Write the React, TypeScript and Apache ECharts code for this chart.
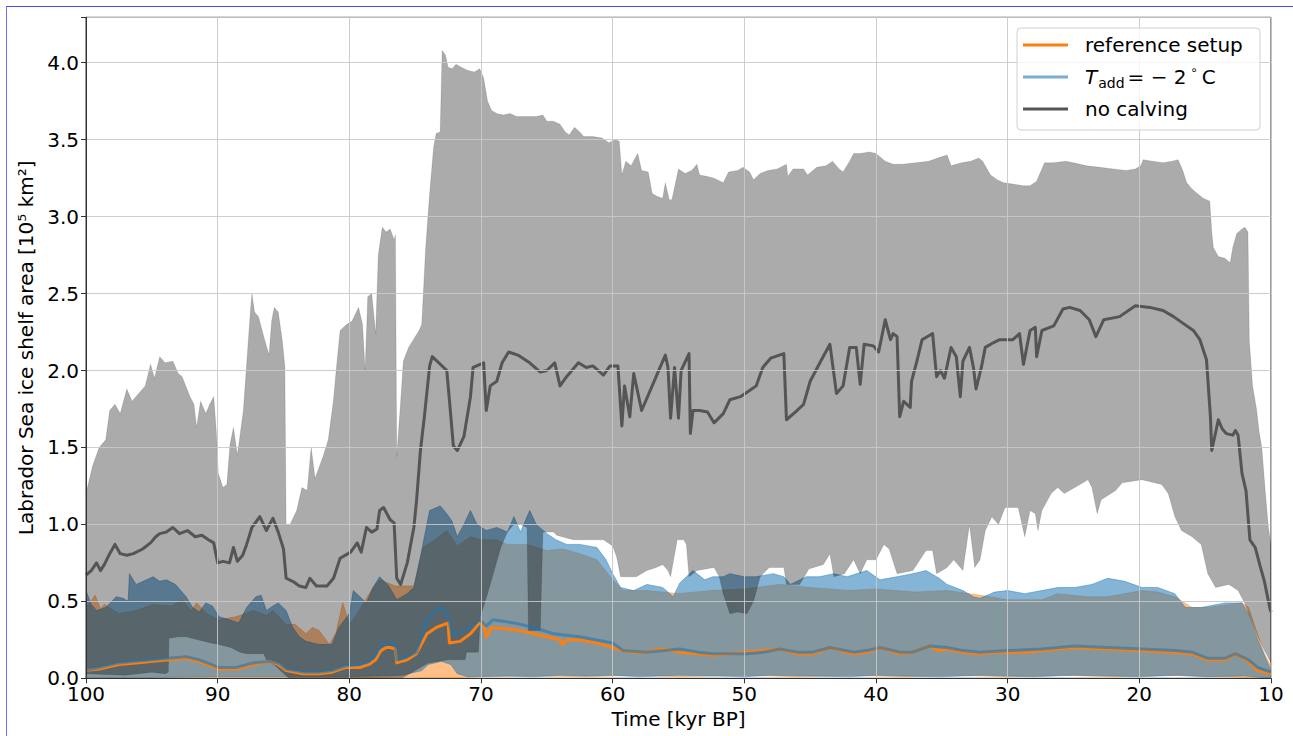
import React, { useEffect, useRef } from "react";
import * as echarts from "echarts";

type P = [number, number];

// ---- no calving (gray) ----
const noCalvingUpper: P[] = [[100,1.2],[99.5,1.38],[99,1.5],[98.5,1.55],[98.2,1.74],[97.8,1.78],[97.4,1.72],[96.9,1.88],[96.5,1.8],[96,1.85],[95.5,1.9],[95.1,2.04],[94.8,1.95],[94.4,2.09],[94,2.05],[93.4,2.06],[93,1.98],[92.7,1.96],[92.1,1.83],[91.8,1.78],[91.6,1.63],[91.3,1.8],[90.9,1.72],[90.6,1.78],[90.3,1.83],[90.1,1.6],[89.95,1.33],[89.6,1.24],[89.3,1.26],[89.06,1.52],[88.8,1.63],[88.5,1.45],[88.05,1.74],[87.8,2.04],[87.5,2.4],[87.4,2.5],[87.2,2.38],[86.9,2.35],[86.5,2.22],[86.1,2.1],[85.9,2.32],[85.7,2.41],[85.4,2.38],[85.1,2.2],[84.9,2.03],[84.8,1.0],[84.5,1.0],[84.0,1.09],[83.6,1.24],[83.2,1.22],[82.9,1.5],[82.6,1.3],[82.0,1.44],[81.6,1.55],[81.2,1.81],[81.0,2.0],[80.7,2.26],[80.2,2.3],[79.8,2.32],[79.3,2.41],[79.0,2.3],[78.8,2.0],[78.6,2.48],[78.3,2.5],[78.0,2.24],[77.8,2.75],[77.5,2.93],[77.2,2.9],[76.9,2.92],[76.6,2.85],[76.5,2.88],[76.4,1.44],[76.1,1.8],[75.9,2.06],[75.5,2.15],[75.0,2.22],[74.7,2.26],[74.5,2.3],[74.2,2.8],[73.9,3.15],[73.6,3.45],[73.4,3.54],[73.1,3.55],[72.95,4.08],[72.7,4.05],[72.5,3.97],[72.2,3.96],[71.9,3.99],[71.5,3.97],[71.0,3.95],[70.5,3.94],[70.1,3.96],[69.8,3.9],[69.5,3.75],[69.2,3.69],[68.8,3.67],[68.3,3.66],[67.8,3.67],[67.3,3.65],[66.5,3.65],[65.8,3.65],[65.3,3.66],[65.0,3.62],[64.5,3.62],[64.0,3.6],[63.6,3.55],[63.3,3.53],[62.9,3.58],[62.5,3.55],[62.2,3.52],[61.5,3.52],[60.8,3.51],[60.3,3.48],[59.8,3.5],[59.5,3.49],[59.3,3.27],[59.0,3.36],[58.6,3.33],[58.1,3.41],[57.8,3.3],[57.3,3.29],[57.0,3.15],[56.6,3.13],[56.2,3.12],[56.0,3.22],[55.7,3.11],[55.5,3.11],[55.0,3.31],[54.5,3.28],[54.0,3.3],[53.6,3.34],[53.4,3.27],[52.8,3.26],[52.3,3.25],[51.6,3.22],[51.2,3.29],[50.5,3.3],[50.1,3.32],[49.6,3.29],[49.3,3.24],[48.8,3.28],[48.2,3.3],[47.5,3.31],[46.8,3.34],[46.7,3.26],[46.3,3.31],[45.5,3.31],[45.2,3.27],[44.5,3.32],[43.8,3.33],[43.3,3.36],[42.8,3.31],[42.5,3.29],[42.0,3.36],[41.7,3.41],[41.2,3.41],[40.5,3.42],[40.0,3.41],[39.3,3.36],[38.7,3.34],[38.0,3.34],[37.0,3.35],[36.0,3.36],[35.3,3.38],[34.6,3.4],[34.3,3.33],[33.5,3.35],[32.8,3.36],[32.2,3.38],[31.9,3.36],[31.3,3.27],[30.8,3.24],[30.3,3.22],[29.5,3.21],[28.8,3.2],[28.3,3.2],[27.8,3.23],[27.2,3.35],[26.5,3.35],[25.6,3.36],[25.0,3.35],[24.0,3.33],[23.0,3.32],[22.0,3.31],[21.0,3.3],[20.3,3.31],[19.9,3.33],[19.7,3.37],[19.0,3.36],[18.2,3.35],[17.5,3.36],[17.06,3.37],[16.7,3.3],[16.4,3.22],[16.0,3.18],[15.6,3.15],[15.15,3.12],[14.65,3.1],[14.5,2.9],[14.38,2.8],[14.0,2.74],[13.5,2.73],[13.1,2.7],[12.9,2.8],[12.6,2.89],[12.2,2.92],[11.98,2.93],[11.75,2.9],[11.65,2.2],[11.4,1.9],[11.1,1.75],[10.9,1.6],[10.7,1.5],[10.46,1.24],[10.2,0.98],[10,0.87]];

const noCalvingLower: P[] = [[100,0.03],[97,0.02],[95,0.04],[94,0.03],[93.75,0.04],[93.7,0.26],[93,0.27],[92.4,0.27],[91.5,0.25],[90.5,0.23],[89.9,0.22],[89,0.2],[88.3,0.17],[87.8,0.16],[86.5,0.16],[86.3,0.12],[85.6,0.08],[85.1,0.04],[84.6,0.0],[76,0.0],[75,0.05],[74,0.1],[72.5,0.12],[71.2,0.12],[71.1,0.17],[70.2,0.17],[70.05,0.4],[69.5,0.55],[69,0.7],[68.5,0.85],[68,0.95],[67.5,1.0],[67,1.0],[66.5,0.98],[66.4,0.31],[65.5,0.31],[65.3,0.95],[64.5,0.95],[64.25,0.93],[63.0,0.9],[62,0.9],[60.7,0.9],[60,0.86],[59.7,0.79],[59.4,0.66],[58.8,0.66],[58.2,0.66],[57.4,0.7],[56.7,0.72],[56.2,0.74],[55.8,0.7],[55.6,0.66],[55.1,0.9],[54.6,0.9],[54.4,0.87],[54.2,0.66],[53.6,0.7],[52.3,0.72],[51.9,0.66],[51.6,0.55],[51.1,0.42],[50.5,0.43],[49.8,0.42],[49.3,0.5],[48.8,0.66],[48.1,0.72],[47.0,0.72],[46.8,0.61],[45.8,0.61],[45.1,0.71],[44.0,0.74],[43.5,0.81],[43.2,0.66],[42.4,0.68],[41.7,0.77],[41.2,0.68],[40.7,0.77],[40.0,0.77],[39.4,0.87],[39.0,0.84],[38.4,0.68],[37.2,0.7],[36.2,0.83],[35.7,0.83],[35.4,0.68],[34.6,0.72],[34.1,0.77],[33.4,0.7],[32.9,1.0],[32.5,0.72],[32.1,0.77],[31.7,0.96],[31.2,1.05],[30.7,1.0],[30.2,1.11],[29.2,1.11],[28.7,0.92],[28.3,1.09],[27.9,1.07],[27.7,0.96],[27.4,1.09],[26.7,1.2],[26.2,1.24],[25.7,1.2],[24.9,1.24],[23.9,1.29],[23.6,1.24],[23.2,1.07],[22.9,1.16],[21.8,1.22],[21.3,1.27],[19.8,1.29],[18.3,1.26],[17.8,1.2],[17.3,1.05],[16.8,0.96],[16.0,0.92],[15.3,0.87],[14.8,0.68],[14.2,0.59],[13.2,0.61],[12.5,0.57],[12.0,0.49],[11.5,0.38],[11.0,0.27],[10.5,0.18],[10,0.1]];

const noCalvingMean: P[] = [[100,0.67],[99.6,0.7],[99.2,0.75],[98.9,0.7],[98.6,0.74],[98.2,0.81],[97.8,0.87],[97.4,0.81],[96.9,0.8],[96.4,0.81],[95.7,0.84],[95.1,0.88],[94.7,0.92],[94.4,0.94],[93.9,0.95],[93.4,0.98],[92.9,0.94],[92.3,0.96],[91.7,0.92],[91.2,0.93],[90.7,0.9],[90.3,0.88],[90.0,0.75],[89.6,0.76],[89.1,0.75],[88.8,0.85],[88.5,0.76],[88.1,0.8],[87.8,0.87],[87.4,0.98],[86.8,1.05],[86.3,0.96],[85.8,1.04],[85.4,0.95],[85.0,0.84],[84.8,0.65],[84.3,0.63],[83.8,0.6],[83.3,0.59],[83.0,0.65],[82.5,0.6],[81.7,0.6],[81.2,0.65],[80.7,0.78],[79.9,0.82],[79.4,0.88],[79.1,0.82],[78.7,0.98],[78.3,0.95],[77.9,0.97],[77.7,1.09],[77.4,1.11],[76.9,1.03],[76.6,1.01],[76.4,0.65],[76.1,0.61],[75.6,0.75],[75.1,0.98],[74.9,1.15],[74.6,1.48],[74.3,1.7],[73.9,2.03],[73.7,2.09],[73.2,2.05],[72.6,2.0],[72.4,1.81],[72.1,1.51],[71.8,1.48],[71.3,1.57],[70.8,1.83],[70.6,2.02],[69.8,2.05],[69.6,1.74],[69.3,1.9],[68.8,1.93],[68.4,2.05],[67.9,2.12],[67.2,2.1],[66.3,2.05],[65.5,1.99],[65.0,2.0],[64.4,2.05],[64.0,1.9],[63.5,1.96],[62.6,2.05],[62.0,2.02],[61.5,2.03],[60.7,1.97],[60.2,2.03],[59.6,2.03],[59.3,1.64],[59.1,1.9],[58.7,1.7],[58.4,1.98],[57.8,1.74],[57.2,1.86],[56.4,2.02],[56.0,2.1],[55.8,2.02],[55.6,1.69],[55.3,2.02],[55.0,1.69],[54.8,2.0],[54.2,2.11],[54.1,1.59],[53.9,1.74],[53.4,1.74],[52.8,1.73],[52.3,1.66],[51.6,1.72],[51.1,1.81],[50.3,1.83],[49.6,1.87],[49.1,1.9],[48.6,2.02],[48.0,2.08],[47.0,2.11],[46.8,1.68],[46.0,1.74],[45.5,1.78],[45.0,1.93],[44.2,2.06],[43.5,2.17],[43.0,1.85],[42.5,1.9],[42.0,2.15],[41.5,2.15],[41.2,1.91],[40.9,2.17],[40.2,2.16],[39.8,2.12],[39.3,2.33],[38.9,2.2],[38.7,2.24],[38.4,2.22],[38.2,1.7],[37.9,1.8],[37.4,1.76],[37.3,1.93],[36.9,2.06],[36.5,2.2],[35.7,2.24],[35.4,1.96],[35.1,2.0],[34.8,1.95],[34.3,2.15],[33.9,2.09],[33.6,1.83],[33.4,2.06],[32.9,2.15],[32.6,2.02],[32.4,1.88],[32.0,2.02],[31.7,2.15],[31.1,2.18],[30.6,2.2],[29.6,2.2],[29.1,2.24],[28.8,2.04],[28.3,2.26],[27.9,2.28],[27.8,2.09],[27.4,2.26],[26.5,2.29],[25.8,2.4],[25.3,2.41],[24.5,2.39],[23.8,2.33],[23.3,2.22],[22.7,2.33],[21.5,2.35],[20.3,2.42],[19.2,2.41],[18.2,2.39],[17.4,2.35],[16.4,2.29],[15.9,2.26],[15.4,2.2],[14.9,2.07],[14.6,1.7],[14.5,1.48],[14.0,1.68],[13.7,1.62],[13.4,1.59],[12.9,1.58],[12.7,1.61],[12.5,1.58],[12.2,1.33],[11.9,1.22],[11.6,0.9],[11.2,0.85],[10.8,0.72],[10.5,0.63],[10.1,0.46],[10,0.43]];

// ---- T_add = -2 C (blue) ----
const tAddUpper: P[] = [[100,0.57],[99.6,0.48],[99.2,0.44],[98.5,0.46],[97.7,0.53],[97.2,0.52],[96.8,0.5],[96.7,0.68],[96.2,0.61],[95.4,0.64],[94.9,0.66],[94.4,0.63],[93.9,0.64],[93.2,0.61],[92.4,0.53],[91.9,0.46],[91.4,0.43],[90.9,0.49],[90.4,0.47],[89.9,0.4],[89.1,0.38],[88.4,0.36],[87.8,0.46],[87.1,0.53],[86.7,0.54],[86.3,0.44],[85.8,0.47],[85.4,0.49],[84.8,0.44],[84.3,0.33],[83.8,0.27],[83.3,0.24],[82.3,0.22],[81.3,0.22],[80.8,0.33],[80.0,0.42],[79.7,0.57],[79.2,0.53],[78.7,0.49],[78.2,0.59],[77.7,0.66],[77.0,0.6],[76.4,0.51],[75.6,0.55],[75.1,0.59],[74.6,0.79],[73.9,1.09],[73.1,1.12],[72.6,1.07],[72.2,1.02],[71.8,0.92],[71.3,1.0],[70.8,1.09],[70.3,1.0],[69.6,0.96],[68.8,0.98],[68.0,0.95],[67.5,1.05],[67.0,0.95],[66.3,1.09],[65.8,1.0],[65.0,0.94],[64.3,0.9],[63.5,0.87],[62.5,0.87],[61.2,0.85],[60.5,0.77],[60.0,0.68],[59.4,0.59],[58.4,0.57],[57.4,0.61],[56.2,0.59],[55.4,0.53],[54.9,0.62],[53.9,0.7],[53.0,0.64],[52.4,0.66],[51.6,0.66],[51.1,0.68],[50.0,0.66],[49.1,0.66],[47.8,0.68],[47.0,0.66],[46.5,0.61],[45.3,0.66],[44.3,0.66],[43.2,0.68],[42.2,0.66],[40.7,0.7],[39.7,0.64],[38.4,0.66],[37.2,0.68],[36.2,0.7],[35.2,0.65],[34.6,0.61],[33.4,0.57],[32.6,0.53],[32.1,0.52],[31.0,0.56],[30.0,0.57],[28.7,0.55],[27.4,0.57],[26.2,0.59],[24.9,0.59],[23.6,0.61],[22.4,0.65],[21.1,0.63],[19.8,0.59],[18.6,0.59],[17.3,0.55],[16.5,0.46],[15.3,0.46],[13.5,0.49],[12.2,0.49],[11.7,0.42],[11.0,0.25],[10.5,0.15],[10.0,0.05]];

const tAddLower: P[] = [[100,0.0],[90,0.01],[85,0.01],[80,0.01],[76,0.02],[74.5,0.05],[74,0.09],[73,0.11],[72.3,0.09],[71.8,0.03],[71,0.01],[68,0.015],[66,0.01],[64,0.02],[62,0.015],[60,0.02],[58,0.01],[55,0.02],[52,0.015],[50,0.01],[48,0.02],[45,0.015],[42,0.01],[40,0.02],[38,0.015],[35,0.01],[32,0.02],[30,0.015],[28,0.01],[25,0.02],[22,0.015],[20,0.01],[17,0.02],[15,0.01],[12,0.015],[10,0.0]];

const tAddMean: P[] = [[100,0.05],[99,0.07],[97.5,0.1],[96.2,0.11],[94.9,0.12],[93.7,0.13],[92.4,0.14],[91.4,0.12],[90.5,0.09],[89.9,0.07],[88.6,0.07],[87.3,0.1],[86.1,0.11],[85.4,0.1],[84.8,0.06],[83.5,0.04],[82.3,0.04],[81.3,0.05],[80.3,0.08],[79.2,0.09],[78.5,0.11],[78.0,0.15],[77.6,0.22],[77.0,0.23],[76.5,0.22],[76.4,0.12],[75.6,0.14],[74.9,0.17],[74.1,0.38],[73.2,0.46],[72.6,0.43],[72.2,0.29],[71.1,0.31],[70.1,0.38],[69.6,0.34],[69.1,0.38],[67.5,0.36],[66.0,0.33],[64.5,0.29],[62.5,0.27],[60.0,0.23],[59.2,0.18],[57.4,0.17],[54.9,0.19],[53.5,0.17],[52.4,0.16],[51,0.16],[49.8,0.16],[48.5,0.17],[47.3,0.19],[46.0,0.17],[44.8,0.17],[43.5,0.2],[41.7,0.17],[40.7,0.18],[39.7,0.2],[38.2,0.17],[37.2,0.17],[35.9,0.21],[34.6,0.2],[33.4,0.18],[32.1,0.17],[30.0,0.18],[27.4,0.19],[24.9,0.21],[22.4,0.2],[19.8,0.19],[17.3,0.18],[16.0,0.17],[14.8,0.13],[13.5,0.13],[12.7,0.16],[11.7,0.12],[11.0,0.07],[10.0,0.04]];

// ---- reference setup (orange) ----
const refUpper: P[] = [[100,0.46],[99.3,0.54],[98.9,0.45],[98.6,0.48],[97.5,0.42],[96.2,0.44],[94.9,0.48],[93.5,0.47],[92.7,0.51],[92.0,0.44],[91.6,0.49],[90.8,0.42],[89.9,0.38],[88.6,0.4],[87.3,0.44],[86.3,0.41],[85.8,0.44],[84.8,0.35],[84.1,0.35],[83.3,0.29],[82.8,0.33],[82.3,0.31],[81.5,0.22],[81.0,0.3],[80.5,0.49],[80.0,0.35],[79.4,0.42],[78.2,0.59],[77.7,0.64],[76.5,0.6],[75.1,0.6],[74.4,0.85],[73.5,0.9],[72.6,0.96],[71.8,0.86],[70.8,0.92],[70.0,0.9],[68.8,0.9],[68.0,0.87],[66.5,0.87],[65.0,0.83],[63.8,0.84],[62.5,0.81],[61.2,0.77],[60.0,0.64],[59.2,0.57],[57.4,0.57],[55.0,0.55],[52.5,0.57],[50.0,0.58],[47.3,0.61],[45.0,0.59],[42.0,0.57],[40.0,0.58],[37.0,0.56],[34.6,0.57],[32.1,0.54],[30.0,0.51],[27.4,0.51],[26.2,0.55],[24.0,0.53],[22.4,0.53],[19.8,0.57],[18.6,0.56],[17.3,0.53],[16.0,0.46],[14.8,0.46],[12.2,0.49],[11.7,0.46],[11.2,0.33],[10.5,0.16],[10.0,0.08]];

const refLower: P[] = [[100,0.0],[80,0.0],[76,0.01],[73,0.0],[70,0.01],[66,0.015],[62,0.01],[58,0.02],[55,0.01],[50,0.02],[46,0.01],[42,0.02],[38,0.01],[34,0.02],[30,0.01],[26,0.02],[22,0.01],[18,0.02],[14,0.01],[10,0.0]];

const refMean: P[] = [[100,0.05],[99,0.06],[98.5,0.07],[97.5,0.09],[96.2,0.1],[94.9,0.11],[93.7,0.12],[92.4,0.13],[91.4,0.11],[90.5,0.08],[89.9,0.06],[88.6,0.06],[87.3,0.09],[86.1,0.11],[85.4,0.09],[84.8,0.05],[83.5,0.03],[82.3,0.03],[81.3,0.04],[80.3,0.07],[79.2,0.07],[78.5,0.09],[78.0,0.12],[77.6,0.18],[77.2,0.2],[76.9,0.2],[76.5,0.19],[76.4,0.1],[75.6,0.12],[74.9,0.16],[74.1,0.29],[73.4,0.33],[72.5,0.36],[72.4,0.23],[71.6,0.24],[70.8,0.29],[70.1,0.36],[69.8,0.35],[69.6,0.27],[69.2,0.33],[68.0,0.32],[67.0,0.31],[66.0,0.29],[65.0,0.27],[64.0,0.25],[63.8,0.22],[63.5,0.25],[62.5,0.25],[61.2,0.23],[60.0,0.2],[59.2,0.18],[58.4,0.17],[57.4,0.17],[56.2,0.19],[54.9,0.17],[53.5,0.16],[52.4,0.15],[51,0.16],[49.8,0.17],[48.5,0.18],[47.3,0.19],[46.0,0.16],[44.8,0.16],[43.5,0.2],[41.7,0.16],[40.7,0.17],[39.7,0.2],[38.2,0.16],[37.2,0.17],[35.9,0.21],[35.3,0.18],[34.6,0.19],[33.4,0.17],[32.1,0.16],[31.0,0.17],[30.0,0.17],[28.7,0.17],[27.4,0.18],[24.9,0.2],[22.4,0.19],[19.8,0.18],[17.3,0.17],[16.0,0.16],[14.8,0.12],[13.5,0.12],[12.7,0.16],[11.7,0.11],[11.0,0.05],[10.0,0.03]];

const legendLabels = ["reference setup", "T_add = −2°C", "no calving"];

const FONT = "DejaVu Sans";

function band(name: string, upper: P[], lower: P[], fill: string, stroke: string, z: number) {
  return {
    type: "custom",
    name,
    coordinateSystem: "cartesian2d",
    silent: true,
    clip: true,
    z,
    data: [[55, 1]],
    renderItem: (_params: any, api: any) => {
      const pts = upper.map((p) => api.coord(p)).concat(lower.slice().reverse().map((p) => api.coord(p)));
      return {
        type: "polygon",
        shape: { points: pts },
        style: { fill, stroke, lineWidth: 0.8 },
      };
    },
  };
}

function line(name: string, data: P[], color: string, z: number) {
  return {
    type: "line",
    name,
    data,
    showSymbol: false,
    symbol: "none",
    silent: true,
    z,
    lineStyle: { color, width: 3, join: "round" },
  };
}

export default function App() {
  const ref = useRef<HTMLDivElement>(null);
  useEffect(() => {
    if (!ref.current) return;
    const chart = echarts.init(ref.current, undefined, { renderer: "svg" });
    const axisColor = "#333333";
    const blueFill = "rgba(31,119,180,0.55)";
    chart.setOption({
      animation: false,
      textStyle: { fontFamily: FONT },
      grid: {
        left: 86,
        right: 22,
        top: 17.3,
        bottom: 57.7,
        show: true,
        borderColor: axisColor,
        borderWidth: 1,
        backgroundColor: "transparent",
      },
      xAxis: {
        type: "value",
        min: 10,
        max: 100,
        interval: 10,
        inverse: true,
        z: 10,
        name: "Time [kyr BP]",
        nameLocation: "middle",
        nameGap: 30,
        nameTextStyle: { fontSize: 20, color: "#000", fontFamily: FONT },
        axisLine: { show: true, onZero: false, lineStyle: { color: axisColor, width: 1 } },
        axisTick: { show: true, length: 5, lineStyle: { color: axisColor } },
        axisLabel: { fontSize: 20, color: "#000", margin: 6, fontFamily: FONT },
        splitLine: { show: true, lineStyle: { color: "#c8c8c8", width: 0.9 } },
      },
      yAxis: {
        type: "value",
        min: 0,
        max: 4.295,
        interval: 0.5,
        z: 10,
        name: "Labrador Sea ice shelf area [10⁵ km²]",
        nameLocation: "middle",
        nameGap: 43,
        nameTextStyle: { fontSize: 20, color: "#000", fontFamily: FONT },
        axisLine: { show: true, onZero: false, lineStyle: { color: axisColor, width: 1 } },
        axisTick: { show: true, length: 5, lineStyle: { color: axisColor } },
        axisLabel: {
          fontSize: 20,
          color: "#000",
          margin: 7,
          fontFamily: FONT,
          formatter: (v: number) => (Math.abs(v * 2 - Math.round(v * 2)) < 1e-6 ? v.toFixed(1) : ""),
        },
        splitLine: { show: true, lineStyle: { color: "#c8c8c8", width: 0.9 } },
      },
      series: [
        band("reference setup band", refUpper, refLower, "rgba(255,127,14,0.5)", "rgba(255,127,14,0.5)", 2),
        band("T_add band", tAddUpper, tAddLower, blueFill, blueFill, 3),
        band("no calving band", noCalvingUpper, noCalvingLower, "rgba(0,0,0,0.33)", "rgba(0,0,0,0.15)", 4),
        line(legendLabels[0], refMean, "#ff7f0e", 5),
        line(legendLabels[1], tAddMean, "rgba(31,119,180,0.6)", 6),
        line(legendLabels[2], noCalvingMean, "#555555", 7),
      ],
      graphic: [
        {
          type: "rect",
          z: 100,
          shape: { x: 1017, y: 28, width: 243, height: 102, r: 4 },
          style: { fill: "rgba(255,255,255,0.8)", stroke: "#d0d0d0", lineWidth: 1 },
        },
        { type: "line", z: 101, shape: { x1: 1023, y1: 45, x2: 1068, y2: 45 }, style: { stroke: "#ff7f0e", lineWidth: 3 } },
        { type: "line", z: 101, shape: { x1: 1023, y1: 77, x2: 1068, y2: 77 }, style: { stroke: "rgba(31,119,180,0.6)", lineWidth: 3 } },
        { type: "line", z: 101, shape: { x1: 1023, y1: 109, x2: 1068, y2: 109 }, style: { stroke: "#555555", lineWidth: 3 } },
        {
          type: "text",
          z: 101,
          x: 1085,
          y: 45,
          style: { text: legendLabels[0], fontSize: 20, fontFamily: FONT, fill: "#000", verticalAlign: "middle" },
        },
        {
          type: "text",
          z: 101,
          x: 1085,
          y: 77,
          style: {
            text: "{i|T}{s|add}{n|= − 2}{u| ∘ }{n|C}",
            fontSize: 20,
            fontFamily: FONT,
            fill: "#000",
            verticalAlign: "middle",
            rich: {
              i: { fontSize: 20, fontStyle: "italic", fontFamily: FONT, lineHeight: 26, fill: "#000" },
              s: { fontSize: 14, fontFamily: FONT, lineHeight: 14, verticalAlign: "bottom", fill: "#000", padding: [0, 3, 0, 1] },
              n: { fontSize: 20, fontFamily: FONT, lineHeight: 26, fill: "#000" },
              u: { fontSize: 12, fontFamily: FONT, lineHeight: 14, verticalAlign: "top", fill: "#000" },
            },
          },
        },
        {
          type: "text",
          z: 101,
          x: 1085,
          y: 109,
          style: { text: legendLabels[2], fontSize: 20, fontFamily: FONT, fill: "#000", verticalAlign: "middle" },
        },
      ],
    });
    return () => chart.dispose();
  }, []);

  return (
    <div style={{ position: "fixed", left: 0, top: 0, width: 1293, height: 736, background: "#fff", overflow: "hidden" }}>
      <div
        style={{
          position: "absolute",
          left: 6,
          top: 6,
          width: 1400,
          height: 800,
          borderLeft: "1.5px solid #7070ff",
          borderTop: "1.5px solid #4848ff",
          boxSizing: "border-box",
        }}
      />
      <div ref={ref} style={{ position: "absolute", left: 0, top: 0, width: 1293, height: 736 }} />
    </div>
  );
}
